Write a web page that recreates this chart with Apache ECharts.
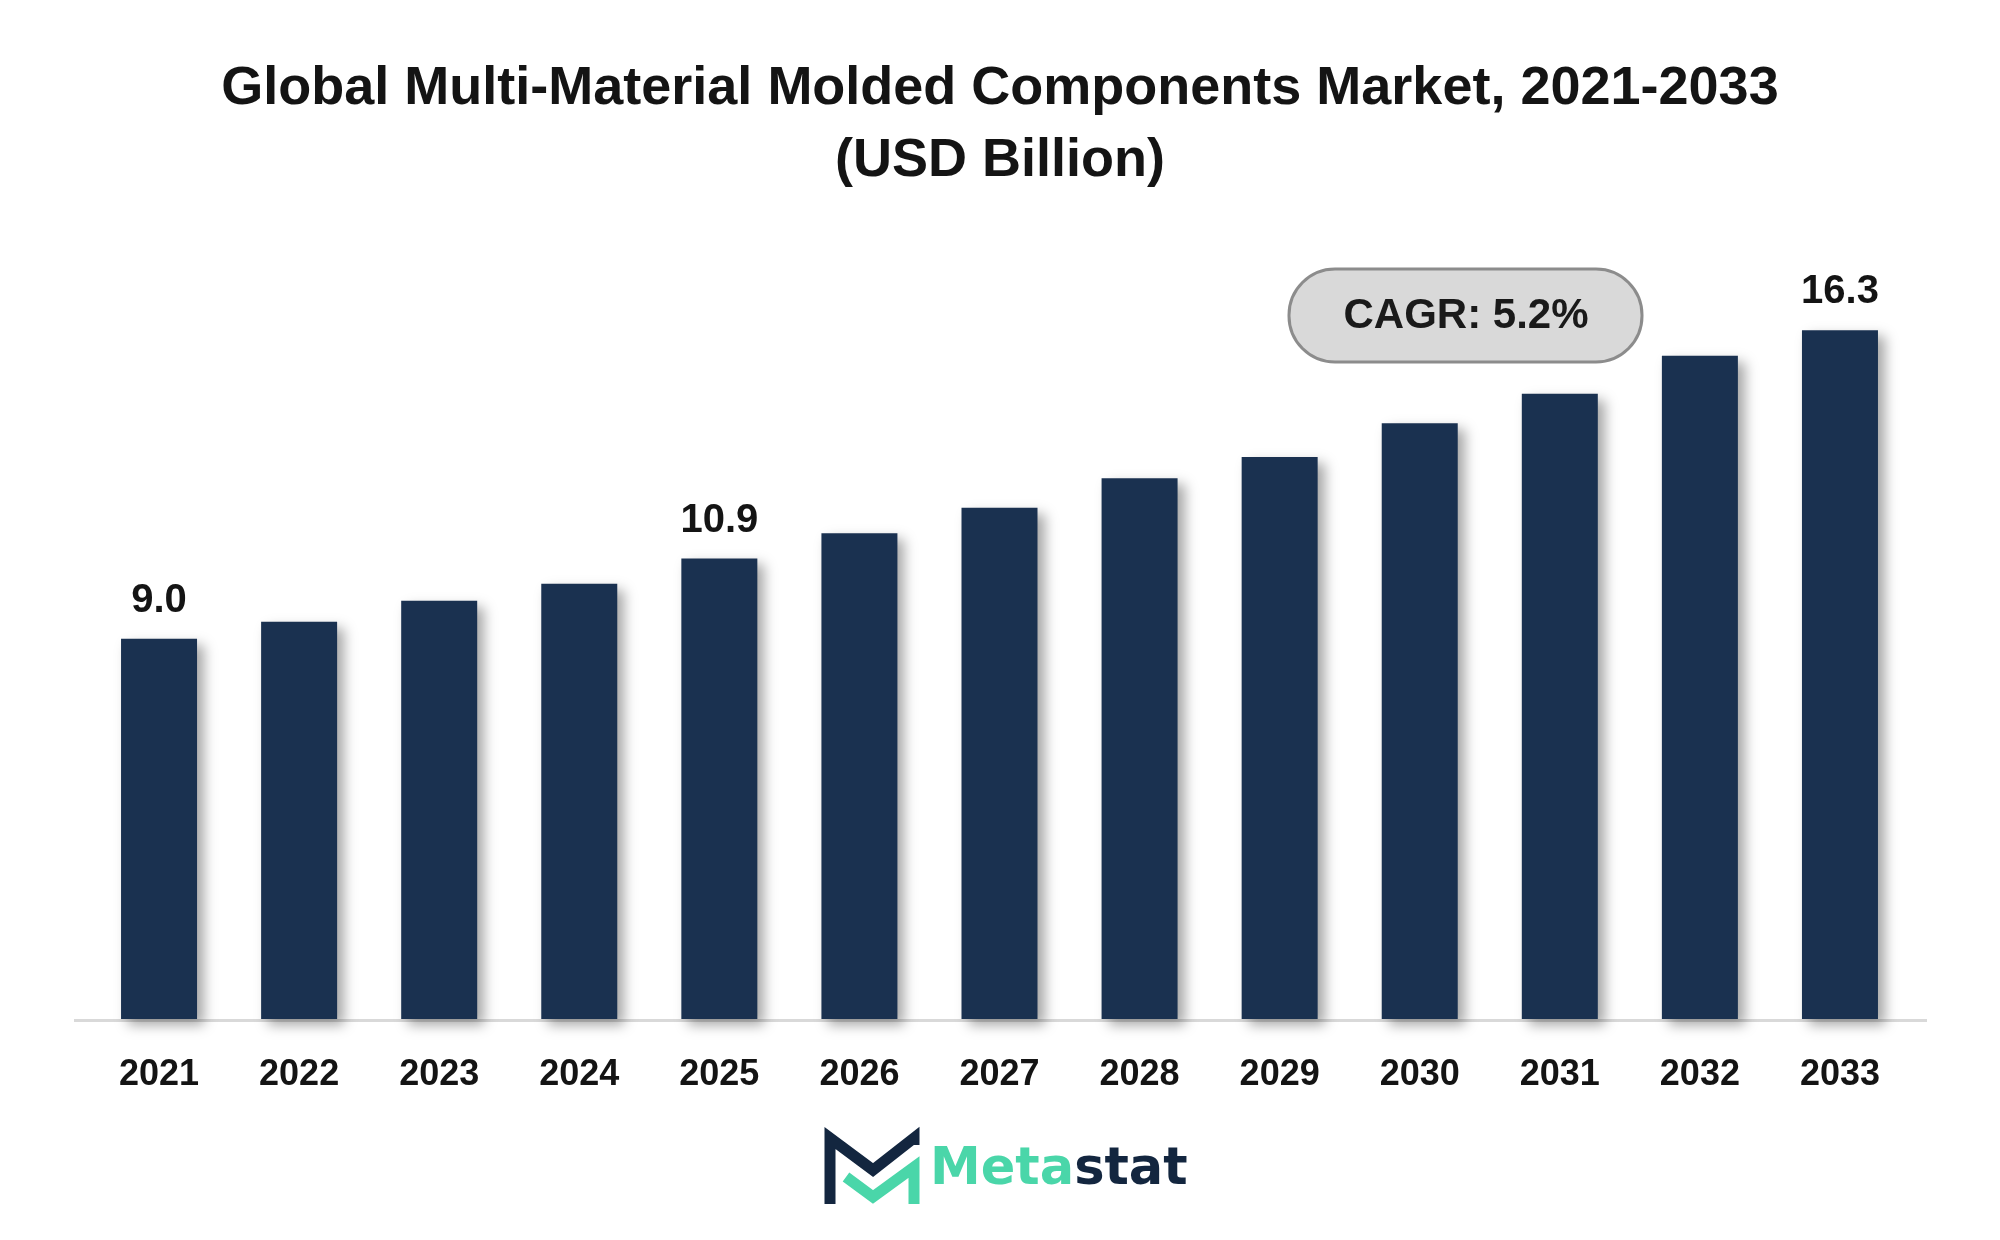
<!DOCTYPE html>
<html>
<head>
<meta charset="utf-8">
<style>
html,body{margin:0;padding:0;background:#ffffff;}
#chart{width:2000px;height:1240px;}
</style>
<script src="https://cdn.jsdelivr.net/npm/echarts@6/dist/echarts.min.js"></script>
</head>
<body>
<div id="chart"></div>
<script>
const years = ['2021','2022','2023','2024','2025','2026','2027','2028','2029','2030','2031','2032','2033'];
const marketValues = [9.0, 9.4, 9.9, 10.3, 10.9, 11.5, 12.1, 12.8, 13.3, 14.1, 14.8, 15.7, 16.3];
const labelledYears = ['2021','2025','2033'];
const titleText = 'Global Multi-Material Molded Components Market, 2021-2033\n(USD Billion)';
const cagrText = 'CAGR: 5.2%';

const chart = echarts.init(document.getElementById('chart'), null, {renderer:'canvas'});
const FONT = '"Liberation Sans", Arial, sans-serif';

const seriesData = marketValues.map((v, i) => ({
  value: v,
  label: { show: labelledYears.indexOf(years[i]) >= 0 }
}));

chart.setOption({
  backgroundColor: '#ffffff',
  animation: false,
  title: {
    text: titleText,
    left: 'center',
    top: 48,
    textStyle: {
      fontFamily: FONT, fontWeight: 'bold', fontSize: 54, color: '#141414', lineHeight: 72
    }
  },
  grid: { left: 89, right: 90, top: 174, bottom: 221, containLabel: false },
  xAxis: {
    type: 'category',
    data: years,
    axisLine: { show: false },
    axisTick: { show: false },
    axisLabel: {
      margin: 38, fontFamily: FONT, fontWeight: 'bold', fontSize: 36, color: '#141414'
    }
  },
  yAxis: {
    type: 'value', min: 0, max: 20,
    show: false,
    splitLine: { show: false }
  },
  series: [{
    type: 'bar',
    data: seriesData,
    barWidth: 76,
    itemStyle: {
      color: '#1a3150',
      shadowColor: 'rgba(0,0,0,0.35)',
      shadowBlur: 12,
      shadowOffsetX: 7,
      shadowOffsetY: 6
    },
    label: {
      position: 'top', distance: 18,
      fontFamily: FONT, fontWeight: 'bold', fontSize: 40, color: '#141414',
      formatter: p => p.value.toFixed(1)
    },
    z: 3
  }],
  graphic: [
    {
      type: 'line', z: 1,
      shape: { x1: 74, y1: 1020.5, x2: 1927, y2: 1020.5 },
      style: { stroke: '#d9d9d9', lineWidth: 3 }
    },
    {
      type: 'rect', z: 5,
      shape: { x: 1289, y: 269, width: 353, height: 93, r: 46 },
      style: { fill: '#d9d9d9', stroke: '#8c8c8c', lineWidth: 3 }
    },
    {
      type: 'text', z: 6,
      x: 1466, y: 316,
      style: {
        text: cagrText, align: 'center', verticalAlign: 'middle',
        font: 'bold 42px ' + FONT, fill: '#1a1a1a'
      }
    },
    {
      type: 'polyline', z: 5,
      shape: { points: [[830,1204],[830,1138],[873,1170],[914,1138],[914,1145]] },
      style: { stroke: '#13263f', lineWidth: 11, fill: null, lineJoin: 'miter', lineCap: 'butt' }
    },
    {
      type: 'polyline', z: 5,
      shape: { points: [[846,1177],[873,1197],[914,1167],[914,1204]] },
      style: { stroke: '#4ad6a9', lineWidth: 11, fill: null, lineJoin: 'miter', lineCap: 'butt' }
    },
    {
      type: 'text', z: 6,
      x: 930, y: 1196,
      style: {
        text: '{a|Meta}{b|stat}', align: 'left', verticalAlign: 'bottom',
        rich: {
          a: { fontFamily: '"DejaVu Sans", sans-serif', fontWeight: 'bold', fontSize: 51, fill: '#4ad6a9', color: '#4ad6a9' },
          b: { fontFamily: '"DejaVu Sans", sans-serif', fontWeight: 'bold', fontSize: 51, fill: '#13263f', color: '#13263f' }
        }
      }
    }
  ]
});
</script>
</body>
</html>
